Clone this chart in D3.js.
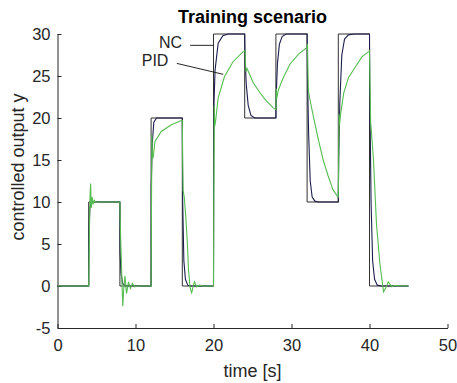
<!DOCTYPE html>
<html>
<head>
<meta charset="utf-8">
<script src="https://cdn.jsdelivr.net/npm/d3@7/dist/d3.min.js"></script>
<style>
  body { margin: 0; background: #fff; }
  text { font-family: "Liberation Sans", Arial, sans-serif; fill: #262626; }
</style>
</head>
<body>
<div id="draw"><svg></svg></div>
<script>
var w = 457;    // svg宽
var h = 383;    // svg高

// reference set-point: [t, y], held until next entry (last one = end of run)
var refSteps = [[0, 0], [4, 10], [8, 0], [12, 20], [16, 0], [20, 30], [24, 20],
    [28, 30], [32, 10], [36, 30], [40, 0], [45, 0]];

// NC response
var ncData = [[0, 0], [4, 0], [4.02, 6], [4.15, 9.3], [4.3, 9.9], [4.6, 10], [8, 10],
    [8.02, 4], [8.15, 1.5], [8.35, 0.3], [8.7, 0], [12, 0], [12.02, 12], [12.15, 17],
    [12.35, 19.5], [12.7, 20], [16, 20], [16.05, 10], [16.2, 3], [16.4, 0.8], [16.7, 0.1],
    [17, 0], [20, 0], [20.03, 16], [20.07, 22], [20.2, 25.7], [20.6, 28.9], [21.2, 29.8],
    [21.9, 30], [24, 30], [24.05, 27], [24.2, 24], [24.45, 21.5], [24.8, 20.3], [25.3, 20],
    [28, 20], [28.05, 23], [28.2, 26.5], [28.45, 28.8], [28.8, 29.7], [29.3, 30], [32, 30],
    [32.05, 25], [32.2, 18], [32.4, 12.5], [32.65, 10.6], [33, 10.1], [33.5, 10], [36, 10],
    [36.05, 15], [36.2, 22], [36.45, 27.5], [36.8, 29.4], [37.3, 29.9], [38, 30], [40, 30],
    [40.05, 22], [40.2, 10], [40.4, 3], [40.65, 0.8], [41, 0.1], [41.5, 0], [45, 0]];

// PID response
var pidData = [[0, 0], [4, 0], [4.08, 6], [4.18, 11], [4.25, 12.2], [4.33, 9.3], [4.45, 10.6],
    [4.55, 9.7], [4.7, 10.2], [4.9, 9.95], [5.2, 10], [8, 10],
    [8.03, 8.2], [8.15, 4], [8.28, 0], [8.37, -2.4], [8.48, -0.5], [8.65, 1.2], [8.85, -0.9],
    [9.1, 0.5], [9.35, -0.3], [9.6, 0.3], [9.9, -0.1], [10.3, 0], [12, 0],
    [12.05, 10], [12.1, 18], [12.15, 16], [12.25, 15.2], [12.5, 17.2], [13.3, 18.4],
    [14.6, 19.2], [15.9, 19.7], [16, 19.7],
    [16.05, 15], [16.1, 11.4], [16.25, 10.6], [16.45, 8.2], [16.65, 5.1], [16.8, 1.9],
    [17.0, -0.2], [17.2, -0.8], [17.55, 0.5], [17.85, -0.1], [18.2, 0.1], [18.6, 0], [20, 0],
    [20.05, 12], [20.1, 21.5], [20.15, 19], [20.25, 19.5], [20.6, 22.4], [21.4, 24.9],
    [22.5, 26.7], [23.8, 27.9], [24, 28],
    [24.05, 27.9], [24.15, 25.5], [24.3, 25.9], [25.1, 24.2], [25.95, 23], [26.8, 22],
    [27.65, 21.2], [28, 21],
    [28.05, 23.5], [28.1, 22.3], [28.3, 23.3], [28.9, 24.7], [29.8, 26.4], [30.9, 27.6], [32, 28.4],
    [32.05, 28.8], [32.15, 23.4], [32.3, 22.5], [32.8, 20.2], [33.4, 17.6], [34.06, 15],
    [34.7, 13.1], [35.3, 11.5], [35.95, 10.6], [36, 10.6],
    [36.05, 15], [36.1, 20.5], [36.15, 19.1], [36.3, 20.5], [36.7, 23], [37.3, 24.8],
    [38.2, 26.1], [39.05, 27.3], [39.9, 27.9], [40, 28],
    [40.05, 24.7], [40.15, 19.5], [40.5, 15.2], [40.9, 7.3], [41.35, 2.5], [41.8, -0.7],
    [42.1, -0.2], [42.4, 0.5], [42.85, -0.1], [43.2, 0.05], [45, 0]];

var xTicks = [0, 10, 20, 30, 40, 50];
var yTicks = [-5, 0, 5, 10, 15, 20, 25, 30];

// annotation: label, text pos [t, y], leader line [t1, y1, t2, y2]
var notes = [
    ["NC", [13.0, 29], [17.0, 28.65, 20.05, 28.65]],
    ["PID", [10.8, 26.9], [15.3, 26.5, 21.25, 25.2]]
];

var svg = d3.select("#draw svg")
    .attr("width", w)
    .attr("height", h);

var x = d3.scaleLinear().domain([0, 50]).range([57.5, 447.5]);
var y = d3.scaleLinear().domain([-5, 30]).range([328, 34]);

// 坐标轴
var xAxis = svg.append("g")
    .attr("transform", "translate(0," + y(-5) + ")")
    .call(d3.axisBottom(x).tickValues(xTicks).tickFormat(String)
        .tickSizeInner(-4).tickSizeOuter(0).tickPadding(11));
var yAxis = svg.append("g")
    .attr("transform", "translate(" + x(0) + ",0)")
    .call(d3.axisLeft(y).tickValues(yTicks).tickFormat(String)
        .tickSizeInner(-4).tickSizeOuter(0).tickPadding(7));
[xAxis, yAxis].forEach(function (g) {
    g.select(".domain").attr("stroke", "#262626");
    g.selectAll(".tick line").attr("stroke", "#262626");
    g.selectAll(".tick text")
        .attr("font-size", "16.5px")
        .attr("font-family", "Liberation Sans, Arial, sans-serif")
        .attr("fill", "#262626");
});

// 曲线
var line = d3.line()
    .x(function (d) { return x(d[0]); })
    .y(function (d) { return y(d[1]); });

svg.append("path")
    .datum(refSteps)
    .attr("d", line.curve(d3.curveStepAfter)(refSteps))
    .attr("fill", "none")
    .attr("stroke", "#333")
    .attr("stroke-width", 1);

line.curve(d3.curveLinear);
svg.append("path")
    .datum(ncData)
    .attr("d", line)
    .attr("fill", "none")
    .attr("stroke", "#1c1f4d")
    .attr("stroke-width", 1.1);

svg.append("path")
    .datum(pidData)
    .attr("d", line)
    .attr("fill", "none")
    .attr("stroke", "#55bd4f")
    .attr("stroke-width", 1.1);

// 标注
svg.selectAll("line.note")
    .data(notes)
    .enter()
    .append("line")
    .attr("class", "note")
    .attr("x1", function (d) { return x(d[2][0]); })
    .attr("y1", function (d) { return y(d[2][1]); })
    .attr("x2", function (d) { return x(d[2][2]); })
    .attr("y2", function (d) { return y(d[2][3]); })
    .attr("stroke", "#262626")
    .attr("stroke-width", 1);
svg.selectAll("text.note")
    .data(notes)
    .enter()
    .append("text")
    .attr("class", "note")
    .attr("x", function (d) { return x(d[1][0]); })
    .attr("y", function (d) { return y(d[1][1]); })
    .attr("dy", "0.35em")
    .attr("font-size", "16px")
    .text(function (d) { return d[0]; });

// 标题与轴标签
svg.append("text")
    .attr("x", (x(0) + x(50)) / 2)
    .attr("y", 23)
    .attr("text-anchor", "middle")
    .attr("font-size", "18px")
    .attr("font-weight", "bold")
    .attr("fill", "#000")
    .style("fill", "#000")
    .text("Training scenario");

svg.append("text")
    .attr("x", (x(0) + x(50)) / 2)
    .attr("y", 377)
    .attr("text-anchor", "middle")
    .attr("font-size", "18px")
    .text("time [s]");

svg.append("text")
    .attr("transform", "translate(24,167) rotate(-90)")
    .attr("text-anchor", "middle")
    .attr("font-size", "18px")
    .text("controlled output y");
</script>
</body>
</html>
